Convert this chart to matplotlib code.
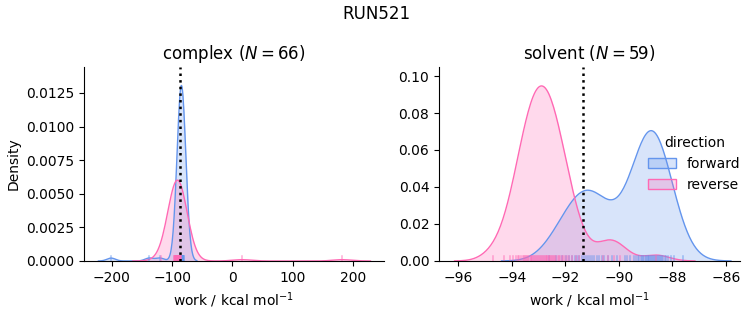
import numpy as np
import matplotlib.pyplot as plt
from matplotlib.colors import to_rgba
from matplotlib.patches import Patch

# work values (kcal/mol)
complex_forward = [
    -201.0, -138.0, -120.0,
    -88.9, -88.2, -87.8, -87.5, -87.3, -87.1, -86.9, -86.7, -86.6, -86.4,
    -86.3, -86.2, -86.1, -86.0, -85.9, -85.8, -85.7, -85.6, -85.5, -85.4,
    -85.3, -85.25, -85.2, -85.1, -85.0, -84.95, -84.85, -84.8, -84.7, -84.65,
    -84.55, -84.5, -84.45, -84.35, -84.3, -84.2, -84.15, -84.05, -84.0, -83.9,
    -83.8, -83.75, -83.7, -83.6, -83.5, -83.4, -83.3, -83.2, -83.1, -83.0,
    -82.9, -82.8, -82.7, -82.6, -82.4, -82.3, -82.1, -81.9, -81.8, -81.5,
    -81.2, -80.8, -80.1,
]
complex_reverse = [
    16.0, 182.0, -118.0,
    -97.0, -96.1, -95.5, -95.2, -94.8, -94.5, -94.3, -94.1, -93.9, -93.7,
    -93.5, -93.4, -93.2, -93.1, -92.9, -92.8, -92.7, -92.5, -92.4, -92.3,
    -92.2, -92.1, -91.9, -91.8, -91.7, -91.6, -91.5, -91.4, -91.3, -91.2,
    -91.1, -91.0, -90.9, -90.8, -90.7, -90.6, -90.5, -90.4, -90.3, -90.2,
    -90.1, -89.9, -89.8, -89.7, -89.6, -89.5, -89.3, -89.2, -89.1, -88.9,
    -88.8, -88.6, -88.5, -88.3, -88.1, -87.9, -87.7, -87.5, -87.2, -86.8,
    -86.5, -85.9, -85.0,
]
solvent_forward = [
    -92.6, -92.34, -92.14, -91.98, -91.86, -91.75, -91.65, -91.57, -91.48, -91.39,
    -91.32, -91.24, -91.16, -91.08, -91.01, -90.92, -90.83, -90.75, -90.65, -90.54,
    -90.42, -90.26, -90.06, -89.68,
    -89.79, -89.57, -89.45, -89.36, -89.29, -89.24, -89.18, -89.13, -89.09, -89.05,
    -89.0, -88.97, -88.93, -88.9, -88.86, -88.83, -88.79, -88.76, -88.73, -88.69,
    -88.66, -88.62, -88.57, -88.55, -88.51, -88.47, -88.43, -88.39, -88.34, -88.28,
    -88.23, -88.16, -88.07, -87.95, -87.6,
]
solvent_reverse = [
    -94.7, -94.3, -94.05, -93.94, -93.86, -93.78, -93.72, -93.66, -93.6, -93.55,
    -93.51, -93.46, -93.42, -93.38, -93.35, -93.3, -93.27, -93.23, -93.2, -93.17,
    -93.13, -93.1, -93.07, -93.03, -92.99, -92.93, -92.9, -92.87, -92.85, -92.81,
    -92.77, -92.73, -92.7, -92.67, -92.63, -92.6, -92.57, -92.53, -92.5, -92.45,
    -92.42, -92.38, -92.34, -92.29, -92.25, -92.2, -92.14, -92.08, -92.02, -91.94,
    -91.86, -91.75, -91.6, -91.5,
    -90.6, -90.4, -90.2, -89.95, -88.6,
]

# free energy estimates (dotted lines)
dg_complex = -87.6
dg_solvent = -91.36

phases = ["complex", "solvent"]
n_cycles = [66, 59]
directions = ["forward", "reverse"]
colors = {"forward": "cornflowerblue", "reverse": "hotpink"}
# fraction of the total area given to each direction curve
share = {"complex": 0.25, "solvent": 0.222}


def kde_curve(values, scale, cut=3, gridsize=200):
    x = np.asarray(values, dtype=float)
    bw = x.std(ddof=1) * len(x) ** (-1 / 5)
    grid = np.linspace(x.min() - cut * bw, x.max() + cut * bw, gridsize)
    z = (grid[:, None] - x[None, :]) / bw
    dens = np.exp(-0.5 * z ** 2).sum(axis=1) / (len(x) * bw * np.sqrt(2 * np.pi))
    return grid, dens * scale


def plot_phase(ax, phase, works, dg, title, xlim, ylim):
    for d in directions:
        grid, dens = kde_curve(works[d], share[phase])
        ax.fill_between(grid, dens, color=colors[d], alpha=0.25, linewidth=0)
        ax.plot(grid, dens, color=colors[d], linewidth=1)
    for d in directions:
        for v in works[d]:
            ax.axvline(v, ymin=0, ymax=0.025, color=colors[d], alpha=0.55, linewidth=1.1)
    ax.axvline(dg, color="black", linestyle=":", linewidth=1.8)
    ax.set_xlim(*xlim)
    ax.set_ylim(*ylim)
    ax.set_title(title, fontsize=12)
    ax.set_xlabel("work / kcal mol$^{-1}$")
    ax.spines["top"].set_visible(False)
    ax.spines["right"].set_visible(False)


fig = plt.figure(figsize=(7.53, 3.25), dpi=100)
ax1 = fig.add_axes([0.1116, 0.197, 0.398, 0.597])
ax2 = fig.add_axes([0.583, 0.197, 0.400, 0.597])

plot_phase(ax1, "complex", {"forward": complex_forward, "reverse": complex_reverse},
           dg_complex, f"{phases[0]} ($N = {n_cycles[0]}$)", (-246, 251), (0, 0.01443))
plot_phase(ax2, "solvent", {"forward": solvent_forward, "reverse": solvent_reverse},
           dg_solvent, f"{phases[1]} ($N = {n_cycles[1]}$)", (-96.72, -85.47), (0, 0.1049))
ax1.set_ylabel("Density")

handles = [Patch(facecolor=to_rgba(colors[d], 0.25), edgecolor=colors[d], linewidth=1)
           for d in directions]
ax2.legend(handles, directions, title="direction", loc="center right",
           bbox_to_anchor=(1.043, 0.5), frameon=False, fontsize=10, title_fontsize=10)

fig.suptitle("RUN521", fontsize=12, y=0.985)
fig.savefig("out.png", dpi=100)
